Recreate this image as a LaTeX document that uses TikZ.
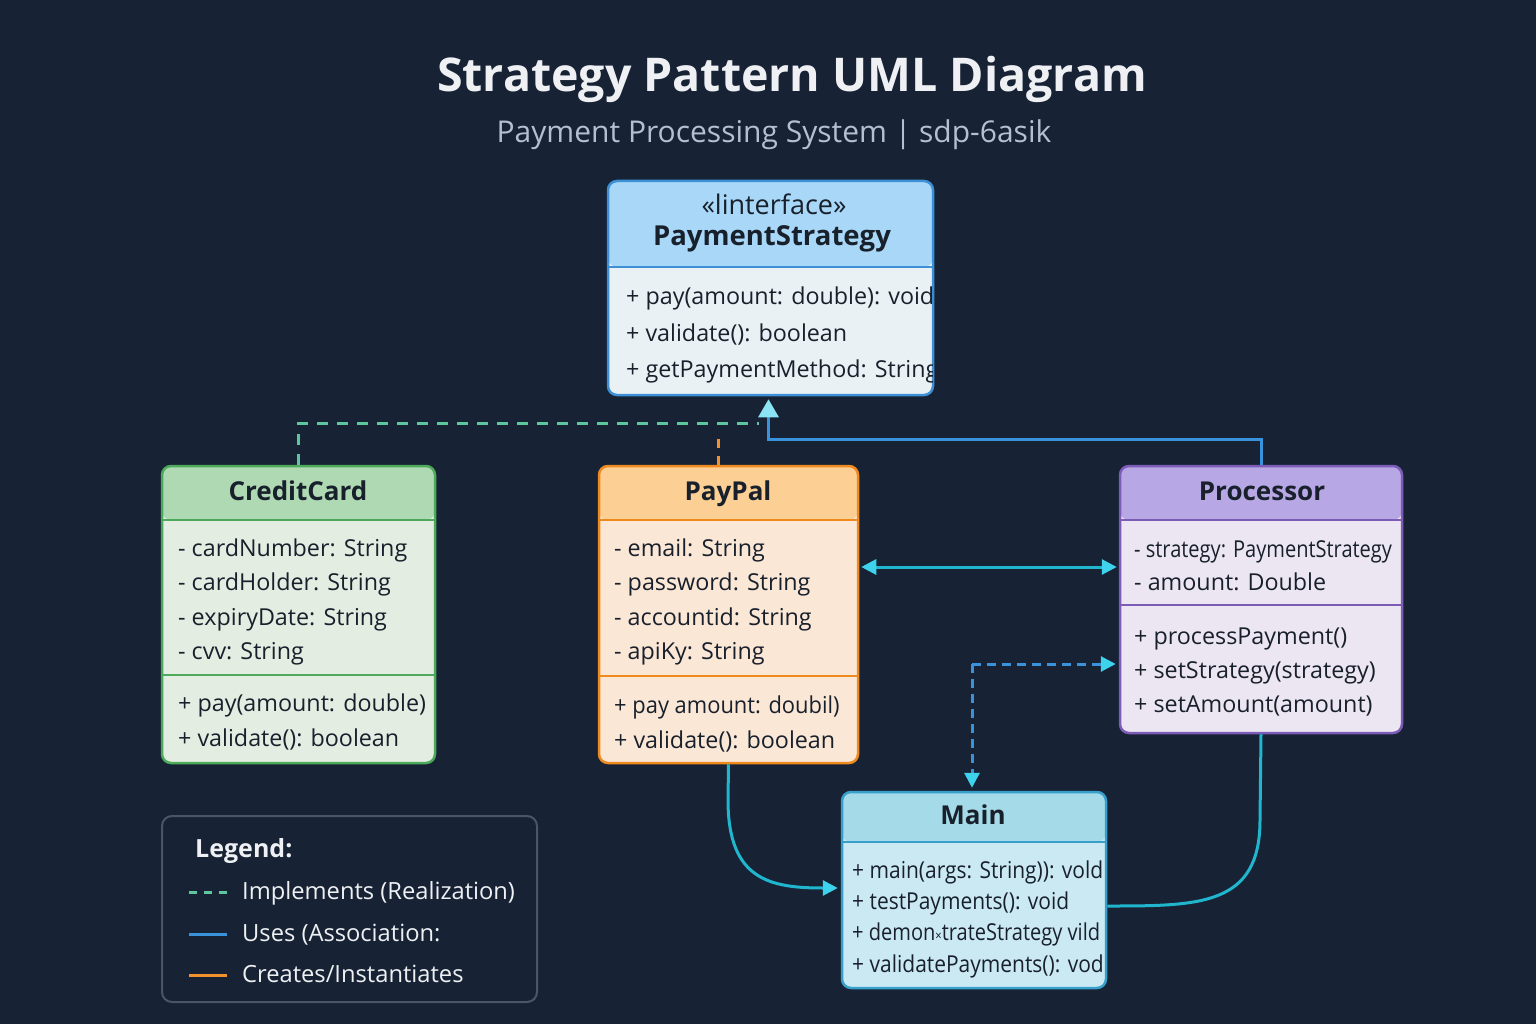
\documentclass[tikz,border=0pt]{standalone}
\usepackage{fontspec}
\setmainfont{Open Sans}
\usetikzlibrary{arrows.meta}

\definecolor{bg}{HTML}{172335}
\definecolor{titlecol}{HTML}{EEF0F3}
\definecolor{subcol}{HTML}{B4C0D0}
\definecolor{ink}{HTML}{18202C}
\definecolor{pshead}{HTML}{A8D7F7}
\definecolor{psbody}{HTML}{EAF1F4}
\definecolor{psline}{HTML}{3D8FD6}
\definecolor{cchead}{HTML}{AFD9B3}
\definecolor{ccbody}{HTML}{E4EDE2}
\definecolor{ccline}{HTML}{4CAA5A}
\definecolor{pphead}{HTML}{FCCF94}
\definecolor{ppbody}{HTML}{FBE7D6}
\definecolor{ppline}{HTML}{EF8A1F}
\definecolor{prochead}{HTML}{B7A7E4}
\definecolor{procbody}{HTML}{ECE6F2}
\definecolor{procline}{HTML}{7D5CB8}
\definecolor{mainhead}{HTML}{A5DBE8}
\definecolor{mainbody}{HTML}{CBE9F3}
\definecolor{mainline}{HTML}{389FCC}
\definecolor{mint}{HTML}{5EC69E}
\definecolor{usesblue}{HTML}{3A93DA}
\definecolor{orangeln}{HTML}{F2922A}
\definecolor{cyanln}{HTML}{1FB6CE}
\definecolor{cyantip}{HTML}{3ED2EC}
\definecolor{legline}{HTML}{4A5566}

\tikzset{
  classbox/.style 2 args={rounded corners=9pt, line width=2.5pt, inner sep=0pt,
    draw=#1line, fill=#1body,
    path picture={\fill[#1head] (path picture bounding box.north west)
      rectangle ([yshift=-#2]path picture bounding box.north east);}},
  head/.style={font=\fontsize{26}{30}\bfseries, text=ink, inner sep=0pt,
    text height=16pt, text depth=0pt},
  member/.style={anchor=west, font=\fontsize{23.3}{26}\selectfont, text=ink,
    inner sep=0pt, text height=19pt, text depth=0pt},
  legtext/.style={anchor=west, font=\fontsize{23.7}{26}\selectfont, text=titlecol,
    inner sep=0pt, text height=19pt, text depth=0pt},
  implements/.style={mint, line width=3pt, dash pattern=on 11pt off 9pt},
  uses/.style={usesblue, line width=3pt},
  creates/.style={orangeln, line width=3pt, dash pattern=on 9pt off 8pt},
  link/.style={cyanln, line width=3pt},
  tip/.style={-{Triangle[length=15pt,width=15pt,color=cyantip]}}
}

\begin{document}
\begin{tikzpicture}[x=1pt, y=-1pt]
\fill[bg] (0,0) rectangle (1536,1024);
\useasboundingbox (0,0) rectangle (1536,1024);

% title
\node[font=\fontsize{46.5}{52}\bfseries, text=titlecol] (title) at (792,79) {Strategy Pattern UML Diagram};
\node[font=\fontsize{30}{34}\selectfont, text=subcol] (subtitle) at (774,135) {Payment Processing System | sdp-6asik};

% interface
\node[classbox={ps}{86pt}, minimum width=325pt, minimum height=214pt] (ps) at (770.5,288) {};
\draw[psline, line width=2pt] (ps.west |- 0,267) -- (ps.east |- 0,267);
\node[head, font=\fontsize{27}{30}\selectfont] (ps-t1) at (774,207) {«linterface»};
\node[head, font=\fontsize{27.5}{30}\bfseries] (ps-t2) at (772,238) {PaymentStrategy};
\begin{scope}
\clip (ps.north west) rectangle ([xshift=-2pt]ps.south east);
\foreach \t [count=\i] in {+ pay(amount: double): void, + validate(): boolean, + getPaymentMethod: String}
  \node[member] (ps-m\i) at (626,{295+36.5*(\i-1)}) {\t};
\end{scope}

% CreditCard
\node[classbox={cc}{54pt}, minimum width=273pt, minimum height=297pt] (cc) at (298.5,614.5) {};
\draw[ccline, line width=2pt] (cc.west |- 0,520) -- (cc.east |- 0,520);
\draw[ccline, line width=2pt] (cc.west |- 0,675) -- (cc.east |- 0,675);
\node[head] (cc-t) at (298,492) {CreditCard};
\foreach \t [count=\i] in {- cardNumber: String, - cardHolder: String, - expiryDate: String, - cvv: String}
  \node[member] (cc-a\i) at (178,{547+34.4*(\i-1)}) {\t};
\foreach \t [count=\i] in {+ pay(amount: double), + validate(): boolean}
  \node[member] (cc-m\i) at (178,{702+35*(\i-1)}) {\t};

% PayPal
\node[classbox={pp}{54pt}, minimum width=259pt, minimum height=297pt] (pp) at (728.5,614.5) {};
\draw[ppline, line width=2pt] (pp.west |- 0,520) -- (pp.east |- 0,520);
\draw[ppline, line width=2pt] (pp.west |- 0,676) -- (pp.east |- 0,676);
\node[head] (pp-t) at (728,492) {PayPal};
\foreach \t [count=\i] in {- email: String, - password: String, - accountid: String, - apiKy: String}
  \node[member] (pp-a\i) at (614,{547+34.4*(\i-1)}) {\t};
\node[member] (pp-m1) at (614,704) {\scalebox{0.94}[1]{+ pay amount: doubil)}};
\node[member] (pp-m2) at (614,739) {+ validate(): boolean};

% Processor
\node[classbox={proc}{54pt}, minimum width=282pt, minimum height=267pt] (proc) at (1261,599.5) {};
\draw[procline, line width=2pt] (proc.west |- 0,520) -- (proc.east |- 0,520);
\draw[procline, line width=2pt] (proc.west |- 0,605) -- (proc.east |- 0,605);
\node[head] (proc-t) at (1262,492) {Processor};
\node[member] (proc-a1) at (1134,548) {\scalebox{0.86}[1]{- strategy: PaymentStrategy}};
\node[member] (proc-a2) at (1134,581) {- amount: Double};
\foreach \t [count=\i] in {+ processPayment(), + setStrategy(strategy), + setAmount(amount)}
  \node[member] (proc-m\i) at (1134,{635+34*(\i-1)}) {\t};

% Main
\node[classbox={main}{50pt}, minimum width=264pt, minimum height=196pt] (mainc) at (974,890) {};
\draw[mainline, line width=2pt] (mainc.west |- 0,842) -- (mainc.east |- 0,842);
\node[head] (main-t) at (973,816) {Main};
\begin{scope}
\clip (mainc.north west) rectangle ([xshift=-2pt]mainc.south east);
\node[member] (main-m1) at (852,869) {\scalebox{0.9}[1]{+ main(args: String)): vold}};
\node[member] (main-m2) at (852,900) {\scalebox{0.9}[1]{+ testPayments(): void}};
\node[member] (main-m3) at (852,931) {\scalebox{0.86}[1]{+ demon{\fontsize{13}{13}\selectfont ×}trateStrategy vild}};
\node[member] (main-m4) at (852,963) {\scalebox{0.9}[1]{+ validatePayments(): vod}};
\end{scope}

% connectors
\draw[implements] (cc.north) |- ([xshift=-12pt,yshift=-27pt]ps.south);
\draw[creates] ([xshift=-10pt]pp.north) -- ++(0,-33);
\draw[uses, -{Triangle[length=18pt,width=20pt,color=cyantip!60!white]}, shorten >=3pt] (proc.north) |- ([xshift=-2pt,yshift=-43pt]ps.south) -- ([xshift=-2pt]ps.south);
\draw[link, {Triangle[length=15pt,width=15pt,color=cyantip]}-{Triangle[length=15pt,width=15pt,color=cyantip]}] ([xshift=2pt]pp.east |- 0,567) -- ([xshift=-2pt]proc.west |- 0,567);
\coordinate (bend) at (972,664);
\draw[usesblue, line width=3pt, dash pattern=on 9pt off 6pt, tip] (bend) -- ([xshift=-3pt]proc.west |- bend);
\draw[usesblue, line width=3pt, dash pattern=on 9pt off 6pt, tip] (bend) -- ([xshift=-2pt,yshift=3pt]mainc.north);
\draw[link, tip] (pp.south) -- (728,800) .. controls (728,880) and (770,888) .. ([xshift=-3pt]mainc.west |- 0,888);
\draw[link] (proc.south) -- (1260,820) .. controls (1260,906) and (1200,906) .. (mainc.east |- 0,906);

% legend
\node[draw=legline, line width=2pt, rounded corners=10pt, minimum width=375pt, minimum height=186pt] (legend) at (349.5,909) {};
\node[legtext, font=\fontsize{25}{28}\bfseries] (leg-t) at (195,848) {Legend:};
\node[legtext] (leg1) at (242,890) {Implements (Realization)};
\node[legtext] (leg2) at (242,932) {Uses (Association:};
\node[legtext] (leg3) at (242,973) {Creates/Instantiates};
\draw[mint, line width=3pt, dash pattern=on 8pt off 7pt] ([xshift=-53pt,yshift=-2pt]leg1.west) -- ([xshift=-15pt,yshift=-2pt]leg1.west);
\draw[uses] ([xshift=-53pt,yshift=-2pt]leg2.west) -- ([xshift=-15pt,yshift=-2pt]leg2.west);
\draw[orangeln, line width=3pt] ([xshift=-53pt,yshift=-2pt]leg3.west) -- ([xshift=-15pt,yshift=-2pt]leg3.west);

\end{tikzpicture}
\end{document}
